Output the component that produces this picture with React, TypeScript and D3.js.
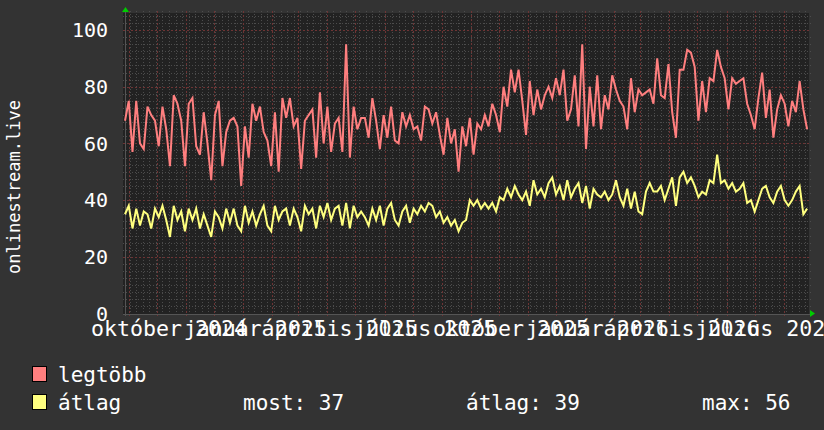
import { useEffect, useRef } from 'react';
import * as d3 from 'd3';

// two years of samples, one every 4 days
const START = new Date(2024, 7, 28);
const END = new Date(2026, 7, 28);
const STEP_DAYS = 4;

const legtobb = [
  68, 75, 57, 75, 60, 58, 73, 70, 68, 59, 73, 65, 52, 77, 74, 68, 52, 74, 76, 59,
  56, 71, 60, 47, 70, 75, 52, 64, 68, 69, 66, 45, 66, 55, 74, 68, 73, 64, 61, 52,
  71, 50, 76, 69, 76, 66, 69, 51, 68, 70, 72, 55, 78, 60, 73, 57, 67, 69, 57, 95,
  55, 73, 65, 69,
  69, 62, 76, 68, 58, 70, 62, 73, 61, 60, 71, 66, 70, 65, 66, 61, 73, 72, 67, 71,
  63, 56, 69, 60, 65, 50, 66, 59, 69, 56, 67, 65, 70, 66, 74, 70, 64, 80, 73, 86,
  78, 86, 75, 63, 82, 70, 79, 72, 77, 80, 76, 83, 77, 86, 68, 72, 84, 66, 95, 58,
  80, 66, 84,
  65, 77, 72, 84, 79, 75, 73, 65, 83, 71, 79, 77, 78, 79, 74, 90, 77, 76, 88, 71,
  62, 86, 86, 93, 92, 87, 68, 82, 71, 83, 82, 93, 87, 83, 72, 83, 81, 82, 83, 74,
  70, 65, 76, 85, 69, 79, 62, 72, 77, 74, 66, 75, 71, 82, 72, 65,
];

const atlag = [
  35, 38, 30, 37, 31, 36, 35, 30, 37, 34, 38, 33, 27, 38, 33, 36, 29, 37, 33, 37,
  30, 35, 31, 27, 36, 34, 30, 37, 32, 37, 31, 29, 38, 32, 36, 31, 35, 38, 31, 29,
  38, 33, 36, 37, 31, 37, 34, 29, 38, 35, 37, 30, 38, 34, 39, 33, 37, 38, 31, 39,
  30, 38, 34, 36,
  34, 31, 37, 33, 38, 31, 37, 39, 33, 31, 36, 38, 32, 37, 35, 38, 36, 39, 38, 34,
  36, 32, 34, 31, 33, 29, 32, 33, 40, 38, 40, 37, 39, 37, 39, 36, 41, 40, 44, 41,
  45, 42, 40, 43, 38, 47, 42, 44, 41, 46, 48, 42, 45, 40, 47, 41, 44, 46, 39, 45,
  37, 44, 42,
  41, 43, 40, 42, 47, 41, 38, 44, 37, 43, 36, 35, 43, 46, 43, 43, 45, 40, 44, 48,
  38, 48, 50, 46, 48, 45, 41, 43, 42, 47, 46, 56, 46, 47, 44, 46, 43, 44, 46, 39,
  40, 36, 40, 44, 45, 41, 39, 43, 45, 40, 38, 40, 43, 45, 35, 37,
];

const MONTHS_HU = [
  'január', 'február', 'március', 'április', 'május', 'június',
  'július', 'augusztus', 'szeptember', 'október', 'november', 'december',
];

const yTicks = [0, 20, 40, 60, 80, 100];
const yMax = 106;
const unitLabel = 'onlinestream.live';

const series = [
  { name: 'legtöbb', color: '#ff7f7f', values: legtobb },
  { name: 'átlag', color: '#ffff7f', values: atlag },
];
const stats = [
  { label: 'most', value: 37 },
  { label: 'átlag', value: 39 },
  { label: 'max', value: 56 },
];

const W = 824;
const H = 430;
const FONT = "'DejaVu Sans Mono', monospace";

export default function App() {
  const ref = useRef<SVGSVGElement>(null);

  useEffect(() => {
    const svg = d3.select(ref.current);
    svg.selectAll('*').remove();

    const left = 125, right = 809, top = 13, bottom = 313.5;

    const x = d3.scaleTime().domain([START, END]).range([left, right]);
    const y = d3.scaleLinear().domain([0, yMax]).range([bottom, top]);

    svg.append('rect').attr('width', W).attr('height', H).attr('fill', '#333333');
    svg.append('rect')
      .attr('x', left - 2).attr('y', top)
      .attr('width', right - left + 2).attr('height', bottom - top + 1)
      .attr('fill', '#222222');

    const grid = svg.append('g').attr('shape-rendering', 'crispEdges');

    // minor grid
    const weeks = d3.timeMonday.range(START, END);
    grid.selectAll('.vminor').data(weeks).join('line')
      .attr('x1', d => Math.round(x(d)) + 0.5).attr('x2', d => Math.round(x(d)) + 0.5)
      .attr('y1', top - 2).attr('y2', bottom + 2)
      .attr('stroke', '#4c4c4c').attr('stroke-dasharray', '1,2');

    const minorY = d3.range(0, yMax, 2.5).filter(v => v % 20 !== 0);
    grid.selectAll('.hminor').data(minorY).join('line')
      .attr('x1', left - 2).attr('x2', right + 2)
      .attr('y1', d => Math.round(y(d)) + 0.5).attr('y2', d => Math.round(y(d)) + 0.5)
      .attr('stroke', '#4c4c4c').attr('stroke-dasharray', '1,2');

    // major grid
    const months = d3.timeMonth.range(START, END);
    grid.selectAll('.vmajor').data(months).join('line')
      .attr('x1', d => Math.round(x(d)) + 0.5).attr('x2', d => Math.round(x(d)) + 0.5)
      .attr('y1', top - 2).attr('y2', bottom + 2)
      .attr('stroke', '#6e3434').attr('stroke-dasharray', '2,2');

    grid.selectAll('.hmajor').data(yTicks.filter(v => v > 0)).join('line')
      .attr('x1', left - 2).attr('x2', right + 2)
      .attr('y1', d => Math.round(y(d)) + 0.5).attr('y2', d => Math.round(y(d)) + 0.5)
      .attr('stroke', '#6e3434').attr('stroke-dasharray', '2,2');

    // axes
    grid.append('line')
      .attr('x1', left - 2).attr('x2', right + 2)
      .attr('y1', Math.round(bottom) + 0.5).attr('y2', Math.round(bottom) + 0.5)
      .attr('stroke', '#555555');
    grid.append('line')
      .attr('x1', left + 0.5).attr('x2', left + 0.5)
      .attr('y1', top - 2).attr('y2', bottom + 2)
      .attr('stroke', '#555555');

    // series
    const line = d3.line<number>()
      .x((_, i) => x(d3.timeDay.offset(START, i * STEP_DAYS)))
      .y(d => y(d));

    series.forEach(s => {
      svg.append('path')
        .datum(s.values)
        .attr('fill', 'none')
        .attr('stroke', s.color)
        .attr('stroke-width', 2)
        .attr('d', line);
    });

    // arrows
    svg.append('path')
      .attr('d', `M${left - 3},${top - 1} L${left + 4},${top - 1} L${left + 0.5},${top - 6} Z`)
      .attr('fill', '#00cc00');
    svg.append('path')
      .attr('d', `M${right + 1},${bottom - 3.5} L${right + 1},${bottom + 3.5} L${right + 6},${bottom} Z`)
      .attr('fill', '#00cc00');

    // y tick labels
    svg.selectAll('.ylab').data(yTicks).join('text')
      .attr('x', 108)
      .attr('y', d => y(d))
      .attr('dy', '0.36em')
      .attr('text-anchor', 'end')
      .attr('font-family', FONT)
      .attr('font-size', 20)
      .attr('fill', '#ffffff')
      .text(d => d);

    // x tick labels, every 3 months, centred a little after the tick
    const quarters = months.filter(d => d.getMonth() % 3 === 0);
    svg.selectAll('.xlab').data(quarters).join('text')
      .attr('x', d => x(d3.timeDay.offset(d, 13)))
      .attr('y', 336)
      .attr('text-anchor', 'middle')
      .attr('font-family', FONT)
      .attr('font-size', 21.6)
      .attr('fill', '#ffffff')
      .text(d => `${MONTHS_HU[d.getMonth()]} ${d.getFullYear()}`);

    // unit label
    svg.append('text')
      .attr('transform', `translate(20,187) rotate(-90)`)
      .attr('text-anchor', 'middle')
      .attr('font-family', FONT)
      .attr('font-size', 17)
      .attr('fill', '#ffffff')
      .text(unitLabel);

    // legend
    const legend = svg.append('g');
    series.forEach((s, i) => {
      const cy = 374 + i * 28;
      legend.append('rect')
        .attr('x', 32.5).attr('y', cy - 7.5)
        .attr('width', 14).attr('height', 15)
        .attr('fill', s.color).attr('stroke', '#000000');
      legend.append('text')
        .attr('x', 58).attr('y', cy).attr('dy', '0.36em')
        .attr('font-family', FONT).attr('font-size', 21)
        .attr('fill', '#ffffff')
        .text(s.name);
    });
    const statX = [243, 466, 702];
    stats.forEach((st, i) => {
      legend.append('text')
        .attr('x', statX[i]).attr('y', 402).attr('dy', '0.36em')
        .attr('font-family', FONT).attr('font-size', 21)
        .attr('fill', '#ffffff')
        .text(`${st.label}: ${st.value}`);
    });
  }, []);

  return (
    <div style={{ position: 'absolute', left: 0, top: 0 }}>
      <svg ref={ref} width={W} height={H} style={{ display: 'block' }} />
    </div>
  );
}
